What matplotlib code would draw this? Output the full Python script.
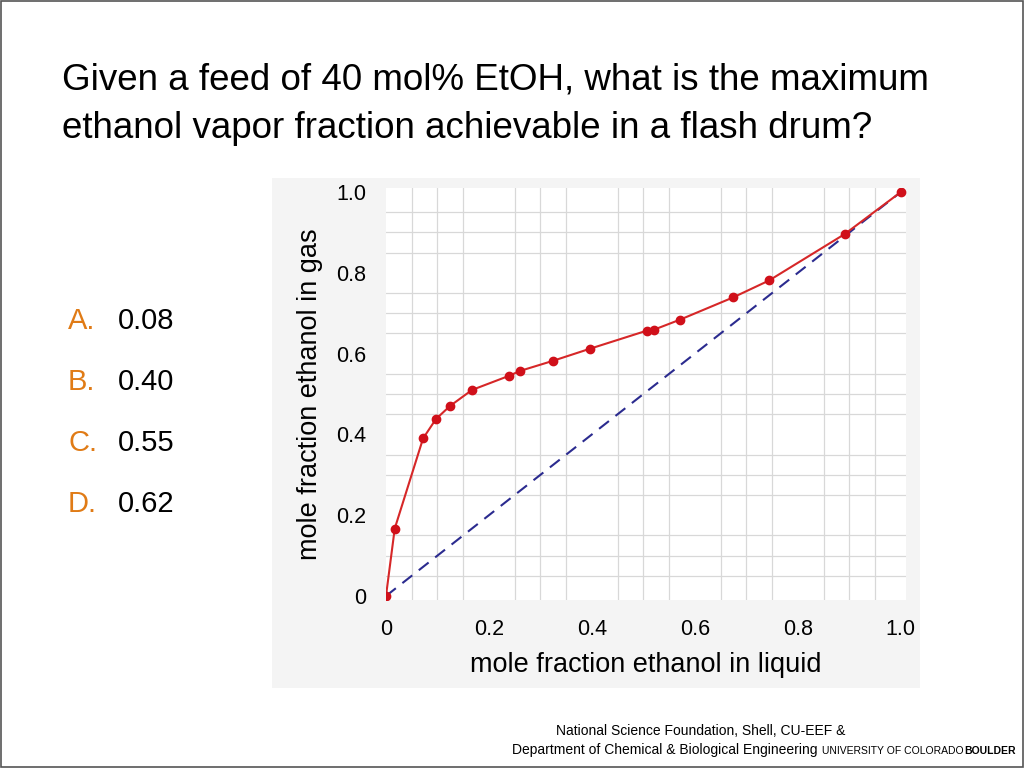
import matplotlib
matplotlib.use("Agg")
import matplotlib.pyplot as plt
from matplotlib.patches import Rectangle
import numpy as np

x_liq = [0, 0.017, 0.072, 0.097, 0.124, 0.167, 0.239, 0.26, 0.324, 0.396, 0.507, 0.52, 0.571, 0.674, 0.744, 0.891, 1.0]
y_gas = [0, 0.167, 0.39, 0.438, 0.47, 0.51, 0.545, 0.557, 0.582, 0.612, 0.657, 0.659, 0.684, 0.739, 0.781, 0.896, 1.0]
ticks = [0, 0.2, 0.4, 0.6, 0.8, 1.0]
tick_labels = ["0", "0.2", "0.4", "0.6", "0.8", "1.0"]
answers = [("A.", "0.08"), ("B.", "0.40"), ("C.", "0.55"), ("D.", "0.62")]

plt.rcParams['font.family'] = ['Liberation Sans', 'DejaVu Sans']
fig = plt.figure(figsize=(10.24, 7.68), dpi=100)
fig.patches.append(Rectangle((0.001, 0.001), 0.998, 0.998, transform=fig.transFigure,
                             fill=False, edgecolor='#555555', lw=1.2))
bg = fig.add_axes([272/1024, 1-688/768, 648/1024, 510/768], zorder=-1)
bg.set_facecolor('#f4f4f4'); bg.set_xticks([]); bg.set_yticks([])
for s in bg.spines.values():
    s.set_visible(False)

fig.text(62/1024, 1-80/768, "Given a feed of 40 mol% EtOH, what is the maximum", fontsize=26.5, va='center')
fig.text(62/1024, 1-128/768, "ethanol vapor fraction achievable in a flash drum?", fontsize=26.5, va='center')
for i, (l, v) in enumerate(answers):
    yy = 1-(321+61*i)/768
    fig.text(68/1024, yy, l, fontsize=21, color='#e07b16', va='center')
    fig.text(118/1024, yy, v, fontsize=21, va='center')

ax = fig.add_axes([386/1024, 1-600/768, 520/1024, 412/768])
ax.set_facecolor('white')
ax.set_xlim(0, 1.01)
ax.set_ylim(-0.01, 1.01)
g = np.arange(0, 1.001, 0.05)
ax.set_xticks(g, minor=True); ax.set_yticks(g, minor=True)
ax.grid(which='minor', color='#d8d8d8', lw=0.9)
ax.set_xticks(ticks); ax.set_yticks(ticks)
ax.set_xticklabels(tick_labels, fontsize=15.5); ax.set_yticklabels(tick_labels, fontsize=15.5)
ax.tick_params(which='both', length=0)
ax.tick_params(axis='x', pad=14)
ax.tick_params(axis='y', pad=14)
for s in ax.spines.values():
    s.set_visible(False)
ax.plot([0, 1], [0, 1], ls='--', color='#2b2b8f', lw=1.5, dashes=(6, 4))
ax.plot(x_liq, y_gas, color='#d62728', lw=1.5, marker='o', ms=6, mfc='#d0101a', mec='#d0101a')
ax.set_xlabel("mole fraction ethanol in liquid", fontsize=19.5, labelpad=8)
ax.set_ylabel("mole fraction ethanol in gas", fontsize=19.5, labelpad=10)

fig.text(845/1024, 1-731/768, "National Science Foundation, Shell, CU-EEF &", fontsize=10, ha='right', va='center')
fig.text(817/1024, 1-750/768, "Department of Chemical & Biological Engineering", fontsize=10, ha='right', va='center')
fig.text(822/1024, 1-751/768, "UNIVERSITY OF COLORADO", fontsize=7.5, va='center')
fig.text(1016/1024, 1-751/768, "BOULDER", fontsize=7.5, va='center', ha='right', fontweight='bold')
fig.savefig("out.png", dpi=100)
